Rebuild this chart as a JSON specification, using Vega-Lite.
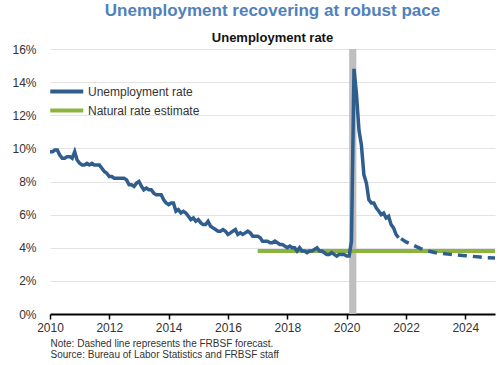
{
 "$schema": "https://vega.github.io/schema/vega-lite/v6.json",
 "width": 445, "height": 265,
 "autosize": "none",
 "padding": {"left": 50, "top": 49, "right": 5, "bottom": 51},
 "background": "white",
 "config": {"font": "Liberation Sans", "view": {"stroke": null}},
 "title": {"text": "Unemployment recovering at robust pace", "subtitle": "Unemployment rate", "anchor": "middle", "frame": "group", "fontSize": 17, "fontWeight": "bold", "color": "#4f81bd", "subtitleFontSize": 13, "subtitleFontWeight": "bold", "subtitleColor": "#111111", "subtitleFont": "Liberation Sans", "subtitlePadding": 12, "offset": -3},
 "datasets": {
  "rec": [{"d": "2020-02-01", "d2": "2020-04-30", "v": 0, "v2": 16}],
  "nat": [{"d": "2017-01-01", "v": 3.8, "s": "Natural rate estimate"}, {"d": "2025-01-01", "v": 3.8, "s": "Natural rate estimate"}],
  "ur": [
   {"d":"2010-01-01","v":9.8},{"d":"2010-02-01","v":9.8},{"d":"2010-03-01","v":9.9},{"d":"2010-04-01","v":9.9},{"d":"2010-05-01","v":9.6},{"d":"2010-06-01","v":9.4},{"d":"2010-07-01","v":9.4},{"d":"2010-08-01","v":9.5},{"d":"2010-09-01","v":9.5},{"d":"2010-10-01","v":9.4},{"d":"2010-11-01","v":9.8},{"d":"2010-12-01","v":9.3},
   {"d":"2011-01-01","v":9.1},{"d":"2011-02-01","v":9.0},{"d":"2011-03-01","v":9.0},{"d":"2011-04-01","v":9.1},{"d":"2011-05-01","v":9.0},{"d":"2011-06-01","v":9.1},{"d":"2011-07-01","v":9.0},{"d":"2011-08-01","v":9.0},{"d":"2011-09-01","v":9.0},{"d":"2011-10-01","v":8.8},{"d":"2011-11-01","v":8.6},{"d":"2011-12-01","v":8.5},
   {"d":"2012-01-01","v":8.3},{"d":"2012-02-01","v":8.3},{"d":"2012-03-01","v":8.2},{"d":"2012-04-01","v":8.2},{"d":"2012-05-01","v":8.2},{"d":"2012-06-01","v":8.2},{"d":"2012-07-01","v":8.2},{"d":"2012-08-01","v":8.1},{"d":"2012-09-01","v":7.8},{"d":"2012-10-01","v":7.8},{"d":"2012-11-01","v":7.7},{"d":"2012-12-01","v":7.9},
   {"d":"2013-01-01","v":8.0},{"d":"2013-02-01","v":7.7},{"d":"2013-03-01","v":7.5},{"d":"2013-04-01","v":7.6},{"d":"2013-05-01","v":7.5},{"d":"2013-06-01","v":7.5},{"d":"2013-07-01","v":7.3},{"d":"2013-08-01","v":7.2},{"d":"2013-09-01","v":7.2},{"d":"2013-10-01","v":7.2},{"d":"2013-11-01","v":6.9},{"d":"2013-12-01","v":6.7},
   {"d":"2014-01-01","v":6.6},{"d":"2014-02-01","v":6.7},{"d":"2014-03-01","v":6.7},{"d":"2014-04-01","v":6.2},{"d":"2014-05-01","v":6.3},{"d":"2014-06-01","v":6.1},{"d":"2014-07-01","v":6.2},{"d":"2014-08-01","v":6.1},{"d":"2014-09-01","v":5.9},{"d":"2014-10-01","v":5.7},{"d":"2014-11-01","v":5.8},{"d":"2014-12-01","v":5.6},
   {"d":"2015-01-01","v":5.7},{"d":"2015-02-01","v":5.5},{"d":"2015-03-01","v":5.4},{"d":"2015-04-01","v":5.4},{"d":"2015-05-01","v":5.6},{"d":"2015-06-01","v":5.3},{"d":"2015-07-01","v":5.2},{"d":"2015-08-01","v":5.1},{"d":"2015-09-01","v":5.0},{"d":"2015-10-01","v":5.0},{"d":"2015-11-01","v":5.1},{"d":"2015-12-01","v":5.0},
   {"d":"2016-01-01","v":4.8},{"d":"2016-02-01","v":4.9},{"d":"2016-03-01","v":5.0},{"d":"2016-04-01","v":5.1},{"d":"2016-05-01","v":4.8},{"d":"2016-06-01","v":4.9},{"d":"2016-07-01","v":4.8},{"d":"2016-08-01","v":4.9},{"d":"2016-09-01","v":5.0},{"d":"2016-10-01","v":4.9},{"d":"2016-11-01","v":4.7},{"d":"2016-12-01","v":4.7},
   {"d":"2017-01-01","v":4.7},{"d":"2017-02-01","v":4.6},{"d":"2017-03-01","v":4.4},{"d":"2017-04-01","v":4.4},{"d":"2017-05-01","v":4.4},{"d":"2017-06-01","v":4.3},{"d":"2017-07-01","v":4.3},{"d":"2017-08-01","v":4.4},{"d":"2017-09-01","v":4.3},{"d":"2017-10-01","v":4.2},{"d":"2017-11-01","v":4.2},{"d":"2017-12-01","v":4.1},
   {"d":"2018-01-01","v":4.0},{"d":"2018-02-01","v":4.1},{"d":"2018-03-01","v":4.0},{"d":"2018-04-01","v":4.0},{"d":"2018-05-01","v":3.8},{"d":"2018-06-01","v":4.0},{"d":"2018-07-01","v":3.8},{"d":"2018-08-01","v":3.8},{"d":"2018-09-01","v":3.7},{"d":"2018-10-01","v":3.8},{"d":"2018-11-01","v":3.8},{"d":"2018-12-01","v":3.9},
   {"d":"2019-01-01","v":4.0},{"d":"2019-02-01","v":3.8},{"d":"2019-03-01","v":3.8},{"d":"2019-04-01","v":3.7},{"d":"2019-05-01","v":3.6},{"d":"2019-06-01","v":3.6},{"d":"2019-07-01","v":3.7},{"d":"2019-08-01","v":3.6},{"d":"2019-09-01","v":3.5},{"d":"2019-10-01","v":3.6},{"d":"2019-11-01","v":3.6},{"d":"2019-12-01","v":3.6},
   {"d":"2020-01-01","v":3.5},{"d":"2020-02-01","v":3.5},{"d":"2020-03-01","v":4.4},{"d":"2020-04-01","v":14.8},{"d":"2020-05-01","v":13.3},{"d":"2020-06-01","v":11.1},{"d":"2020-07-01","v":10.2},{"d":"2020-08-01","v":8.4},{"d":"2020-09-01","v":7.9},{"d":"2020-10-01","v":6.9},{"d":"2020-11-01","v":6.7},{"d":"2020-12-01","v":6.7},
   {"d":"2021-01-01","v":6.4},{"d":"2021-02-01","v":6.2},{"d":"2021-03-01","v":6.0},{"d":"2021-04-01","v":6.1},{"d":"2021-05-01","v":5.8},{"d":"2021-06-01","v":5.9},{"d":"2021-07-01","v":5.4},{"d":"2021-08-01","v":5.2},{"d":"2021-09-01","v":4.8},{"d":"2021-10-01","v":4.6}
  ],
  "fc": [
   {"d":"2021-11-01","v":4.55},{"d":"2022-01-01","v":4.35},{"d":"2022-04-01","v":4.15},{"d":"2022-07-01","v":3.95},{"d":"2022-10-01","v":3.8},{"d":"2023-01-01","v":3.7},{"d":"2023-04-01","v":3.65},{"d":"2023-07-01","v":3.6},{"d":"2023-10-01","v":3.56},{"d":"2024-01-01","v":3.52},{"d":"2024-04-01","v":3.48},{"d":"2024-07-01","v":3.44},{"d":"2024-10-01","v":3.4},{"d":"2025-01-01","v":3.38}
  ]
 },
 "encoding": {
  "x": {"field": "d", "type": "temporal",
   "scale": {"domain": [{"year": 2010, "month": 1, "date": 1}, {"year": 2025, "month": 1, "date": 1}]},
   "axis": {"format": "%Y", "values": [{"year":2010,"month":1,"date":1},{"year":2012,"month":1,"date":1},{"year":2014,"month":1,"date":1},{"year":2016,"month":1,"date":1},{"year":2018,"month":1,"date":1},{"year":2020,"month":1,"date":1},{"year":2022,"month":1,"date":1},{"year":2024,"month":1,"date":1}],
    "grid": false, "domainColor": "#000000", "domainWidth": 2, "tickColor": "#000000", "tickWidth": 1.5, "tickSize": 5,
    "labelFontSize": 12, "labelColor": "#333333", "labelPadding": 3, "labelFlush": false,
    "title": ["Note: Dashed line represents the FRBSF forecast.", "Source: Bureau of Labor Statistics and FRBSF staff"],
    "titleFontSize": 10, "titleFontWeight": "normal", "titleColor": "#333333", "titleAnchor": "start", "titleAlign": "left", "titleX": 0, "titleY": 24, "titleBaseline": "top", "titleLineHeight": 11}},
  "y": {"field": "v", "type": "quantitative",
   "scale": {"domain": [0, 16]},
   "axis": {"values": [0, 2, 4, 6, 8, 10, 12, 14, 16], "labelExpr": "datum.value + '%'", "domain": false, "ticks": false, "gridColor": "#e3e3e3", "gridWidth": 1, "labelFontSize": 12, "labelColor": "#333333", "labelPadding": 14, "title": null}}
 },
 "layer": [
  {"data": {"name": "rec"}, "mark": {"type": "rect", "color": "#bfbfbf"},
   "encoding": {"x2": {"field": "d2"}, "y2": {"field": "v2"}}},
  {"data": {"name": "nat"}, "mark": {"type": "line", "strokeWidth": 4},
   "encoding": {"color": {"field": "s", "type": "nominal",
     "scale": {"domain": ["Unemployment rate", "Natural rate estimate"], "range": ["#2f5e8e", "#8db33f"]},
     "legend": {"title": null, "orient": "none", "legendX": -2, "legendY": 32, "symbolType": "M-1,0H3", "symbolSize": 272, "symbolStrokeWidth": 4, "labelFontSize": 12, "labelColor": "#333333", "labelOffset": 19, "rowPadding": -2}}}},
  {"data": {"name": "ur"}, "transform": [{"calculate": "'Unemployment rate'", "as": "s"}], "mark": {"type": "line", "strokeWidth": 3.5},
   "encoding": {"color": {"field": "s", "type": "nominal"}}},
  {"data": {"name": "fc"}, "transform": [{"calculate": "'Unemployment rate'", "as": "s"}], "mark": {"type": "line", "strokeWidth": 3.5, "strokeDash": [9, 6]},
   "encoding": {"color": {"field": "s", "type": "nominal"}}}
 ]
}
